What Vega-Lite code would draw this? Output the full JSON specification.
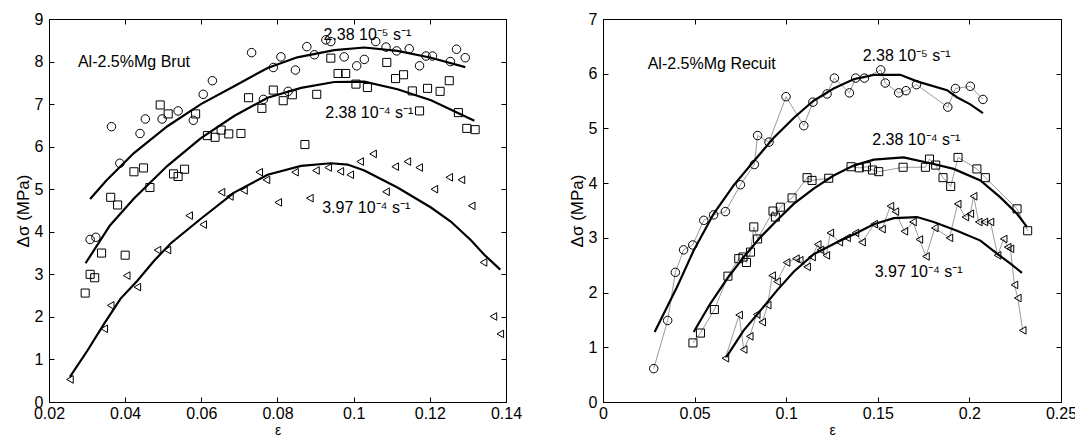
{
  "$schema": "https://vega.github.io/schema/vega-lite/v6.json",
  "padding": {"left": 13, "top": 10, "right": 0, "bottom": 0},
  "background": "white",
  "config": {
    "font": "Liberation Sans",
    "view": {"stroke": "black", "strokeWidth": 1},
    "axis": {
      "grid": false,
      "domainColor": "black",
      "tickColor": "black",
      "tickSize": -5,
      "labelPadding": 8,
      "labelFlush": false,
      "labelOverlap": false,
      "labelFont": "Liberation Sans",
      "labelFontSize": 16,
      "labelColor": "black",
      "titleFont": "Liberation Sans",
      "titleFontWeight": "normal",
      "titleColor": "black",
      "titlePadding": 2
    },
    "axisY": {"labelPadding": 11},
    "text": {"font": "Liberation Sans", "fontSize": 16, "color": "black"}
  },
  "datasets": {
    "Lpts": [
      {"x":0.0308,"y":3.82,"s":"a"},{"x":0.0323,"y":3.87,"s":"a"},{"x":0.0364,"y":6.47,"s":"a"},{"x":0.0386,"y":5.61,"s":"a"},{"x":0.0439,"y":6.31,"s":"a"},{"x":0.0453,"y":6.65,"s":"a"},{"x":0.0497,"y":6.65,"s":"a"},{"x":0.0539,"y":6.84,"s":"a"},{"x":0.0579,"y":6.62,"s":"a"},{"x":0.0605,"y":7.23,"s":"a"},{"x":0.0629,"y":7.55,"s":"a"},{"x":0.0732,"y":8.21,"s":"a"},{"x":0.0763,"y":7.11,"s":"a"},{"x":0.0789,"y":7.86,"s":"a"},{"x":0.0809,"y":8.11,"s":"a"},{"x":0.0828,"y":7.30,"s":"a"},{"x":0.0847,"y":7.80,"s":"a"},{"x":0.0877,"y":8.35,"s":"a"},{"x":0.0897,"y":8.16,"s":"a"},{"x":0.0927,"y":8.51,"s":"a"},{"x":0.094,"y":8.47,"s":"a"},{"x":0.0975,"y":8.11,"s":"a"},{"x":0.1008,"y":7.90,"s":"a"},{"x":0.1028,"y":8.05,"s":"a"},{"x":0.1058,"y":8.47,"s":"a"},{"x":0.1085,"y":8.34,"s":"a"},{"x":0.1113,"y":8.25,"s":"a"},{"x":0.1146,"y":8.30,"s":"a"},{"x":0.1173,"y":7.90,"s":"a"},{"x":0.119,"y":8.13,"s":"a"},{"x":0.1207,"y":8.13,"s":"a"},{"x":0.1254,"y":8.0,"s":"a"},{"x":0.127,"y":8.29,"s":"a"},{"x":0.1293,"y":8.09,"s":"a"},
      {"x":0.0295,"y":2.56,"s":"b"},{"x":0.0308,"y":3.0,"s":"b"},{"x":0.032,"y":2.92,"s":"b"},{"x":0.0338,"y":3.50,"s":"b"},{"x":0.0362,"y":4.81,"s":"b"},{"x":0.038,"y":4.63,"s":"b"},{"x":0.04,"y":3.45,"s":"b"},{"x":0.0423,"y":5.41,"s":"b"},{"x":0.0448,"y":5.50,"s":"b"},{"x":0.0465,"y":5.04,"s":"b"},{"x":0.0492,"y":6.98,"s":"b"},{"x":0.0513,"y":6.77,"s":"b"},{"x":0.0527,"y":5.36,"s":"b"},{"x":0.0539,"y":5.30,"s":"b"},{"x":0.0556,"y":5.47,"s":"b"},{"x":0.0585,"y":6.77,"s":"b"},{"x":0.0616,"y":6.26,"s":"b"},{"x":0.0636,"y":6.22,"s":"b"},{"x":0.0652,"y":6.39,"s":"b"},{"x":0.0672,"y":6.30,"s":"b"},{"x":0.0704,"y":6.31,"s":"b"},{"x":0.0724,"y":7.15,"s":"b"},{"x":0.0759,"y":6.90,"s":"b"},{"x":0.0789,"y":7.33,"s":"b"},{"x":0.0815,"y":7.08,"s":"b"},{"x":0.0839,"y":7.22,"s":"b"},{"x":0.0872,"y":6.05,"s":"b"},{"x":0.0903,"y":7.23,"s":"b"},{"x":0.094,"y":8.08,"s":"b"},{"x":0.0959,"y":7.72,"s":"b"},{"x":0.0979,"y":7.72,"s":"b"},{"x":0.1006,"y":7.47,"s":"b"},{"x":0.1036,"y":7.39,"s":"b"},{"x":0.1087,"y":7.98,"s":"b"},{"x":0.111,"y":7.60,"s":"b"},{"x":0.1131,"y":7.69,"s":"b"},{"x":0.1154,"y":7.31,"s":"b"},{"x":0.1173,"y":6.84,"s":"b"},{"x":0.1194,"y":7.37,"s":"b"},{"x":0.1227,"y":7.30,"s":"b"},{"x":0.1251,"y":7.55,"s":"b"},{"x":0.1275,"y":6.80,"s":"b"},{"x":0.1297,"y":6.43,"s":"b"},{"x":0.1319,"y":6.40,"s":"b"},
      {"x":0.0255,"y":0.53,"s":"c"},{"x":0.0345,"y":1.72,"s":"c"},{"x":0.0362,"y":2.27,"s":"c"},{"x":0.0404,"y":2.97,"s":"c"},{"x":0.0432,"y":2.70,"s":"c"},{"x":0.0485,"y":3.57,"s":"c"},{"x":0.0511,"y":3.57,"s":"c"},{"x":0.0568,"y":4.38,"s":"c"},{"x":0.0605,"y":4.17,"s":"c"},{"x":0.0653,"y":4.93,"s":"c"},{"x":0.0675,"y":4.83,"s":"c"},{"x":0.0712,"y":4.97,"s":"c"},{"x":0.0752,"y":5.40,"s":"c"},{"x":0.0771,"y":5.22,"s":"c"},{"x":0.0802,"y":4.69,"s":"c"},{"x":0.0846,"y":5.40,"s":"c"},{"x":0.0885,"y":4.79,"s":"c"},{"x":0.0901,"y":5.44,"s":"c"},{"x":0.0933,"y":5.51,"s":"c"},{"x":0.0965,"y":5.42,"s":"c"},{"x":0.0991,"y":5.34,"s":"c"},{"x":0.1017,"y":5.65,"s":"c"},{"x":0.1051,"y":5.83,"s":"c"},{"x":0.1085,"y":4.94,"s":"c"},{"x":0.1109,"y":5.53,"s":"c"},{"x":0.1141,"y":5.65,"s":"c"},{"x":0.1172,"y":5.51,"s":"c"},{"x":0.1212,"y":5.0,"s":"c"},{"x":0.1251,"y":5.28,"s":"c"},{"x":0.1283,"y":5.22,"s":"c"},{"x":0.131,"y":4.61,"s":"c"},{"x":0.1341,"y":3.28,"s":"c"},{"x":0.1367,"y":2.01,"s":"c"},{"x":0.1385,"y":1.60,"s":"c"}
    ],
    "Lfit": [
      {"x":0.0308,"y":4.77,"s":"a"},{"x":0.035,"y":5.2,"s":"a"},{"x":0.0423,"y":5.85,"s":"a"},{"x":0.0511,"y":6.48,"s":"a"},{"x":0.0599,"y":7.0,"s":"a"},{"x":0.0686,"y":7.42,"s":"a"},{"x":0.0774,"y":7.85,"s":"a"},{"x":0.0852,"y":8.1,"s":"a"},{"x":0.0949,"y":8.27,"s":"a"},{"x":0.1028,"y":8.33,"s":"a"},{"x":0.1115,"y":8.25,"s":"a"},{"x":0.1203,"y":8.09,"s":"a"},{"x":0.1293,"y":7.87,"s":"a"},
      {"x":0.0296,"y":3.26,"s":"b"},{"x":0.036,"y":4.15,"s":"b"},{"x":0.0423,"y":4.78,"s":"b"},{"x":0.0511,"y":5.55,"s":"b"},{"x":0.0599,"y":6.2,"s":"b"},{"x":0.0686,"y":6.72,"s":"b"},{"x":0.0774,"y":7.15,"s":"b"},{"x":0.0862,"y":7.38,"s":"b"},{"x":0.0949,"y":7.52,"s":"b"},{"x":0.1028,"y":7.53,"s":"b"},{"x":0.1115,"y":7.35,"s":"b"},{"x":0.1203,"y":7.09,"s":"b"},{"x":0.1317,"y":6.61,"s":"b"},
      {"x":0.0255,"y":0.59,"s":"c"},{"x":0.0301,"y":1.21,"s":"c"},{"x":0.0345,"y":1.84,"s":"c"},{"x":0.0388,"y":2.43,"s":"c"},{"x":0.0432,"y":2.85,"s":"c"},{"x":0.0476,"y":3.32,"s":"c"},{"x":0.052,"y":3.73,"s":"c"},{"x":0.0598,"y":4.30,"s":"c"},{"x":0.0686,"y":4.92,"s":"c"},{"x":0.0774,"y":5.34,"s":"c"},{"x":0.0862,"y":5.55,"s":"c"},{"x":0.094,"y":5.61,"s":"c"},{"x":0.0984,"y":5.58,"s":"c"},{"x":0.1028,"y":5.44,"s":"c"},{"x":0.1115,"y":5.04,"s":"c"},{"x":0.1203,"y":4.57,"s":"c"},{"x":0.1255,"y":4.24,"s":"c"},{"x":0.1308,"y":3.80,"s":"c"},{"x":0.1343,"y":3.46,"s":"c"},{"x":0.1385,"y":3.11,"s":"c"}
    ],
    "Rpts": [
      {"x":0.0277,"y":0.61,"s":"a"},{"x":0.0353,"y":1.49,"s":"a"},{"x":0.0395,"y":2.37,"s":"a"},{"x":0.044,"y":2.78,"s":"a"},{"x":0.049,"y":2.87,"s":"a"},{"x":0.055,"y":3.32,"s":"a"},{"x":0.0604,"y":3.42,"s":"a"},{"x":0.0668,"y":3.48,"s":"a"},{"x":0.075,"y":3.97,"s":"a"},{"x":0.0826,"y":4.34,"s":"a"},{"x":0.0844,"y":4.87,"s":"a"},{"x":0.0906,"y":4.75,"s":"a"},{"x":0.0999,"y":5.58,"s":"a"},{"x":0.1096,"y":5.05,"s":"a"},{"x":0.1146,"y":5.48,"s":"a"},{"x":0.1223,"y":5.63,"s":"a"},{"x":0.1263,"y":5.92,"s":"a"},{"x":0.1345,"y":5.65,"s":"a"},{"x":0.1379,"y":5.92,"s":"a"},{"x":0.1427,"y":5.92,"s":"a"},{"x":0.1516,"y":6.07,"s":"a"},{"x":0.1541,"y":5.83,"s":"a"},{"x":0.1614,"y":5.65,"s":"a"},{"x":0.1654,"y":5.69,"s":"a"},{"x":0.1711,"y":5.80,"s":"a"},{"x":0.1882,"y":5.39,"s":"a"},{"x":0.1924,"y":5.73,"s":"a"},{"x":0.2005,"y":5.77,"s":"a"},{"x":0.2074,"y":5.53,"s":"a"},
      {"x":0.0491,"y":1.08,"s":"b"},{"x":0.0532,"y":1.26,"s":"b"},{"x":0.0608,"y":1.69,"s":"b"},{"x":0.0682,"y":2.30,"s":"b"},{"x":0.0741,"y":2.62,"s":"b"},{"x":0.0764,"y":2.65,"s":"b"},{"x":0.0783,"y":2.55,"s":"b"},{"x":0.0805,"y":2.74,"s":"b"},{"x":0.0823,"y":3.20,"s":"b"},{"x":0.0844,"y":2.98,"s":"b"},{"x":0.0928,"y":3.49,"s":"b"},{"x":0.0941,"y":3.38,"s":"b"},{"x":0.0968,"y":3.56,"s":"b"},{"x":0.1032,"y":3.73,"s":"b"},{"x":0.1114,"y":4.10,"s":"b"},{"x":0.1141,"y":4.05,"s":"b"},{"x":0.1232,"y":4.09,"s":"b"},{"x":0.1354,"y":4.30,"s":"b"},{"x":0.1399,"y":4.28,"s":"b"},{"x":0.1438,"y":4.30,"s":"b"},{"x":0.1471,"y":4.24,"s":"b"},{"x":0.1505,"y":4.21,"s":"b"},{"x":0.1638,"y":4.29,"s":"b"},{"x":0.176,"y":4.29,"s":"b"},{"x":0.1782,"y":4.44,"s":"b"},{"x":0.1816,"y":4.33,"s":"b"},{"x":0.1856,"y":4.10,"s":"b"},{"x":0.1898,"y":3.94,"s":"b"},{"x":0.1938,"y":4.47,"s":"b"},{"x":0.2041,"y":4.26,"s":"b"},{"x":0.2087,"y":4.10,"s":"b"},{"x":0.226,"y":3.53,"s":"b"},{"x":0.2318,"y":3.13,"s":"b"},
      {"x":0.0668,"y":0.80,"s":"c"},{"x":0.0743,"y":1.59,"s":"c"},{"x":0.0768,"y":0.96,"s":"c"},{"x":0.0801,"y":1.20,"s":"c"},{"x":0.0839,"y":1.60,"s":"c"},{"x":0.0869,"y":1.46,"s":"c"},{"x":0.0899,"y":1.77,"s":"c"},{"x":0.0923,"y":2.31,"s":"c"},{"x":0.095,"y":2.20,"s":"c"},{"x":0.1002,"y":2.55,"s":"c"},{"x":0.1053,"y":2.62,"s":"c"},{"x":0.1074,"y":2.59,"s":"c"},{"x":0.1114,"y":2.47,"s":"c"},{"x":0.1141,"y":2.65,"s":"c"},{"x":0.1172,"y":2.88,"s":"c"},{"x":0.1187,"y":2.78,"s":"c"},{"x":0.1219,"y":2.68,"s":"c"},{"x":0.1241,"y":3.09,"s":"c"},{"x":0.129,"y":2.92,"s":"c"},{"x":0.1332,"y":3.0,"s":"c"},{"x":0.1378,"y":3.09,"s":"c"},{"x":0.1414,"y":2.92,"s":"c"},{"x":0.148,"y":3.25,"s":"c"},{"x":0.1523,"y":3.16,"s":"c"},{"x":0.1569,"y":3.58,"s":"c"},{"x":0.1596,"y":3.48,"s":"c"},{"x":0.1645,"y":3.12,"s":"c"},{"x":0.1692,"y":3.29,"s":"c"},{"x":0.1727,"y":2.97,"s":"c"},{"x":0.1763,"y":2.66,"s":"c"},{"x":0.1811,"y":3.18,"s":"c"},{"x":0.1891,"y":3.0,"s":"c"},{"x":0.1936,"y":3.62,"s":"c"},{"x":0.1978,"y":3.38,"s":"c"},{"x":0.2005,"y":3.44,"s":"c"},{"x":0.2023,"y":3.76,"s":"c"},{"x":0.2051,"y":3.29,"s":"c"},{"x":0.2082,"y":3.29,"s":"c"},{"x":0.2115,"y":3.29,"s":"c"},{"x":0.2154,"y":2.68,"s":"c"},{"x":0.2187,"y":2.98,"s":"c"},{"x":0.2209,"y":2.83,"s":"c"},{"x":0.2224,"y":2.80,"s":"c"},{"x":0.2246,"y":2.14,"s":"c"},{"x":0.2264,"y":1.90,"s":"c"},{"x":0.2291,"y":1.31,"s":"c"}
    ],
    "Rfit": [
      {"x":0.0282,"y":1.28,"s":"a"},{"x":0.0404,"y":2.10,"s":"a"},{"x":0.0495,"y":2.77,"s":"a"},{"x":0.0604,"y":3.44,"s":"a"},{"x":0.0713,"y":3.96,"s":"a"},{"x":0.0823,"y":4.40,"s":"a"},{"x":0.0932,"y":4.83,"s":"a"},{"x":0.1041,"y":5.19,"s":"a"},{"x":0.115,"y":5.51,"s":"a"},{"x":0.1259,"y":5.73,"s":"a"},{"x":0.1368,"y":5.90,"s":"a"},{"x":0.1478,"y":5.98,"s":"a"},{"x":0.1623,"y":5.98,"s":"a"},{"x":0.1714,"y":5.86,"s":"a"},{"x":0.1878,"y":5.70,"s":"a"},{"x":0.1932,"y":5.57,"s":"a"},{"x":0.2005,"y":5.44,"s":"a"},{"x":0.2074,"y":5.28,"s":"a"},
      {"x":0.0495,"y":1.28,"s":"b"},{"x":0.0586,"y":1.80,"s":"b"},{"x":0.0677,"y":2.25,"s":"b"},{"x":0.0768,"y":2.65,"s":"b"},{"x":0.0859,"y":3.01,"s":"b"},{"x":0.095,"y":3.32,"s":"b"},{"x":0.1041,"y":3.62,"s":"b"},{"x":0.115,"y":3.90,"s":"b"},{"x":0.1259,"y":4.14,"s":"b"},{"x":0.1368,"y":4.32,"s":"b"},{"x":0.1478,"y":4.43,"s":"b"},{"x":0.1641,"y":4.47,"s":"b"},{"x":0.1805,"y":4.35,"s":"b"},{"x":0.1914,"y":4.26,"s":"b"},{"x":0.206,"y":4.05,"s":"b"},{"x":0.2169,"y":3.74,"s":"b"},{"x":0.226,"y":3.44,"s":"b"},{"x":0.2314,"y":3.20,"s":"b"},
      {"x":0.0673,"y":0.82,"s":"c"},{"x":0.0768,"y":1.31,"s":"c"},{"x":0.0859,"y":1.67,"s":"c"},{"x":0.095,"y":2.04,"s":"c"},{"x":0.1041,"y":2.38,"s":"c"},{"x":0.115,"y":2.70,"s":"c"},{"x":0.1296,"y":2.95,"s":"c"},{"x":0.1368,"y":3.06,"s":"c"},{"x":0.1478,"y":3.25,"s":"c"},{"x":0.1587,"y":3.36,"s":"c"},{"x":0.1714,"y":3.38,"s":"c"},{"x":0.1805,"y":3.29,"s":"c"},{"x":0.1932,"y":3.13,"s":"c"},{"x":0.206,"y":2.95,"s":"c"},{"x":0.2151,"y":2.71,"s":"c"},{"x":0.2224,"y":2.53,"s":"c"},{"x":0.2287,"y":2.36,"s":"c"}
    ],
    "Ltitle": [{"x":0.0276,"y":8.0,"t":"Al-2.5%Mg Brut"}],
    "Lrate": [
      {"x":0.1036,"y":8.62,"t":"2.38 10⁻⁵ s⁻¹"},
      {"x":0.1041,"y":6.80,"t":"2.38 10⁻⁴ s⁻¹"},
      {"x":0.1033,"y":4.57,"t":"3.97 10⁻⁴ s⁻¹"}
    ],
    "Rtitle": [{"x":0.0244,"y":6.18,"t":"Al-2.5%Mg Recuit"}],
    "Rrate": [
      {"x":0.1657,"y":6.33,"t":"2.38 10⁻⁵ s⁻¹"},
      {"x":0.171,"y":4.78,"t":"2.38 10⁻⁴ s⁻¹"},
      {"x":0.1723,"y":2.37,"t":"3.97 10⁻⁴ s⁻¹"}
    ]
  },
  "hconcat": [
    {
      "width": 457,
      "height": 383,
      "encoding": {
        "x": {"field": "x", "type": "quantitative", "scale": {"domain": [0.02, 0.14], "nice": false, "zero": false}, "axis": {"values": [0.02, 0.04, 0.06, 0.08, 0.1, 0.12, 0.14], "format": "~g", "title": "ε", "titleFontSize": 14}},
        "y": {"field": "y", "type": "quantitative", "scale": {"domain": [0, 9], "nice": false}, "axis": {"values": [0, 1, 2, 3, 4, 5, 6, 7, 8, 9], "title": "Δσ (MPa)", "titleFontSize": 17}}
      },
      "layer": [
        {
          "layer": [
            {"data": {"name": "Lfit"}, "mark": {"type": "line", "color": "black", "strokeWidth": 2.2}, "encoding": {"detail": {"field": "s"}}},
            {"data": {"name": "Lpts"}, "mark": {"type": "point", "filled": false, "stroke": "black", "strokeWidth": 1, "opacity": 1},
             "encoding": {"shape": {"field": "s", "type": "nominal", "scale": {"domain": ["a", "b", "c"], "range": ["circle", "square", "triangle-left"]}, "legend": null},
                          "size": {"field": "s", "type": "nominal", "scale": {"domain": ["a", "b", "c"], "range": [72, 58, 62]}, "legend": null}}},
            {"data": {"name": "Ltitle"}, "mark": {"type": "text", "align": "left", "baseline": "middle"}, "encoding": {"text": {"field": "t"}}},
            {"data": {"name": "Lrate"}, "mark": {"type": "text", "align": "center", "baseline": "middle"}, "encoding": {"text": {"field": "t"}}}
          ]
        },
        {
          "data": {"name": "Lfit"},
          "mark": {"type": "point", "opacity": 0},
          "encoding": {
            "x": {"field": "x", "type": "quantitative", "scale": {"domain": [0.02, 0.14], "nice": false, "zero": false}, "axis": {"orient": "top", "values": [0.02, 0.04, 0.06, 0.08, 0.1, 0.12, 0.14], "labels": false, "title": null}},
            "y": {"field": "y", "type": "quantitative", "scale": {"domain": [0, 9], "nice": false}, "axis": {"orient": "right", "values": [0, 1, 2, 3, 4, 5, 6, 7, 8, 9], "labels": false, "title": null}}
          }
        }
      ],
      "resolve": {"axis": {"x": "independent", "y": "independent"}}
    },
    {
      "width": 458,
      "height": 383,
      "encoding": {
        "x": {"field": "x", "type": "quantitative", "scale": {"domain": [0, 0.25], "nice": false, "zero": false}, "axis": {"values": [0, 0.05, 0.1, 0.15, 0.2, 0.25], "format": "~g", "title": "ε", "titleFontSize": 14}},
        "y": {"field": "y", "type": "quantitative", "scale": {"domain": [0, 7], "nice": false}, "axis": {"values": [0, 1, 2, 3, 4, 5, 6, 7], "title": "Δσ (MPa)", "titleFontSize": 17}}
      },
      "layer": [
        {
          "layer": [
            {"data": {"name": "Rpts"}, "mark": {"type": "line", "color": "#808080", "strokeWidth": 0.8}, "encoding": {"detail": {"field": "s"}}},
            {"data": {"name": "Rfit"}, "mark": {"type": "line", "color": "black", "strokeWidth": 2.2}, "encoding": {"detail": {"field": "s"}}},
            {"data": {"name": "Rpts"}, "mark": {"type": "point", "filled": false, "stroke": "black", "strokeWidth": 1, "opacity": 1},
             "encoding": {"shape": {"field": "s", "type": "nominal", "scale": {"domain": ["a", "b", "c"], "range": ["circle", "square", "triangle-left"]}, "legend": null},
                          "size": {"field": "s", "type": "nominal", "scale": {"domain": ["a", "b", "c"], "range": [72, 58, 62]}, "legend": null}}},
            {"data": {"name": "Rtitle"}, "mark": {"type": "text", "align": "left", "baseline": "middle"}, "encoding": {"text": {"field": "t"}}},
            {"data": {"name": "Rrate"}, "mark": {"type": "text", "align": "center", "baseline": "middle"}, "encoding": {"text": {"field": "t"}}}
          ]
        },
        {
          "data": {"name": "Rfit"},
          "mark": {"type": "point", "opacity": 0},
          "encoding": {
            "x": {"field": "x", "type": "quantitative", "scale": {"domain": [0, 0.25], "nice": false, "zero": false}, "axis": {"orient": "top", "values": [0, 0.05, 0.1, 0.15, 0.2, 0.25], "labels": false, "title": null}},
            "y": {"field": "y", "type": "quantitative", "scale": {"domain": [0, 7], "nice": false}, "axis": {"orient": "right", "values": [0, 1, 2, 3, 4, 5, 6, 7], "labels": false, "title": null}}
          }
        }
      ],
      "resolve": {"axis": {"x": "independent", "y": "independent"}}
    }
  ],
  "spacing": 97,
  "bounds": "flush"
}
